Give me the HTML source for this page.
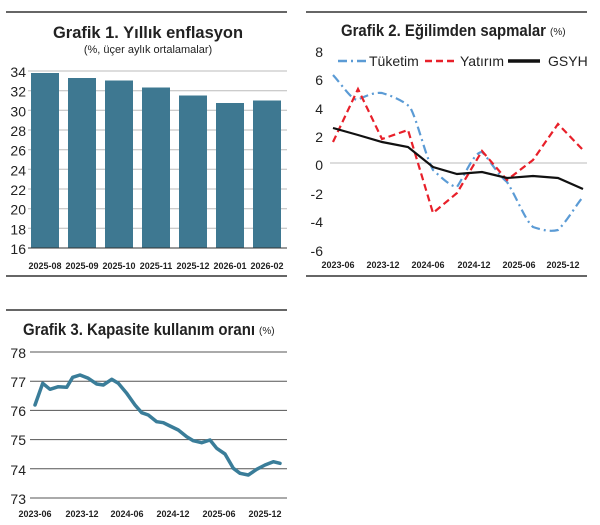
<!DOCTYPE html>
<html><head><meta charset="utf-8"><style>
html,body{margin:0;padding:0;background:#fff;}
svg{display:block;font-family:"Liberation Sans",sans-serif;}
</style></head><body>
<svg width="600" height="525" viewBox="0 0 600 525" xmlns="http://www.w3.org/2000/svg">
<rect width="600" height="525" fill="#fff"/>
<!-- Chart 1 -->
<line x1="6" y1="12" x2="287" y2="12" stroke="#333" stroke-width="1.5"/>
<line x1="6" y1="276" x2="287" y2="276" stroke="#333" stroke-width="1.5"/>
<text x="148" y="38" text-anchor="middle" font-size="17" font-weight="bold" fill="#222" textLength="190" lengthAdjust="spacingAndGlyphs">Grafik 1. Yıllık enflasyon</text>
<text x="148" y="53" text-anchor="middle" font-size="11" fill="#222">(%, üçer aylık ortalamalar)</text>
<g stroke="#bbb" stroke-width="1">
<line x1="28" y1="71" x2="287" y2="71"/><line x1="28" y1="90.7" x2="287" y2="90.7"/><line x1="28" y1="110.3" x2="287" y2="110.3"/><line x1="28" y1="130" x2="287" y2="130"/><line x1="28" y1="149.7" x2="287" y2="149.7"/><line x1="28" y1="169.3" x2="287" y2="169.3"/><line x1="28" y1="189" x2="287" y2="189"/><line x1="28" y1="208.7" x2="287" y2="208.7"/><line x1="28" y1="228.3" x2="287" y2="228.3"/>
</g>
<g fill="#3e7891">
<rect x="31" y="73" width="28" height="175"/>
<rect x="68" y="78" width="28" height="170"/>
<rect x="105" y="80.5" width="28" height="167.5"/>
<rect x="142" y="87.5" width="28" height="160.5"/>
<rect x="179" y="95.5" width="28" height="152.5"/>
<rect x="216" y="103" width="28" height="145"/>
<rect x="253" y="100.5" width="28" height="147.5"/>
</g>
<line x1="28" y1="248" x2="287" y2="248" stroke="#333" stroke-width="1"/>
<g font-size="14" fill="#222" text-anchor="end">
<text x="26" y="77">34</text><text x="26" y="96.7">32</text><text x="26" y="116.3">30</text><text x="26" y="136">28</text><text x="26" y="155.7">26</text><text x="26" y="175.3">24</text><text x="26" y="195">22</text><text x="26" y="214.7">20</text><text x="26" y="234.3">18</text><text x="26" y="254">16</text>
</g>
<g font-size="9" font-weight="bold" fill="#222" text-anchor="middle">
<text x="45" y="269">2025-08</text><text x="82" y="269">2025-09</text><text x="119" y="269">2025-10</text><text x="156" y="269">2025-11</text><text x="193" y="269">2025-12</text><text x="230" y="269">2026-01</text><text x="267" y="269">2026-02</text>
</g>
<!-- Chart 2 -->
<line x1="306" y1="12" x2="587" y2="12" stroke="#333" stroke-width="1.5"/>
<line x1="306" y1="276" x2="587" y2="276" stroke="#333" stroke-width="1.5"/>
<text x="341" y="36" font-size="17" font-weight="bold" fill="#222" textLength="205" lengthAdjust="spacingAndGlyphs">Grafik 2. Eğilimden sapmalar</text>
<text x="550" y="35" font-size="10" fill="#222">(%)</text>
<line x1="330" y1="163" x2="587" y2="163" stroke="#bbb" stroke-width="1"/>
<g font-size="14" fill="#222" text-anchor="end">
<text x="323" y="57">8</text><text x="323" y="85">6</text><text x="323" y="114">4</text><text x="323" y="142">2</text><text x="323" y="170">0</text><text x="323" y="199">-2</text><text x="323" y="227">-4</text><text x="323" y="256">-6</text>
</g>
<g font-size="14" fill="#222"><text x="369" y="66">Tüketim</text><text x="460" y="66">Yatırım</text><text x="548" y="66">GSYH</text></g>
<line x1="338" y1="61" x2="366" y2="61" stroke="#5b9bd5" stroke-width="2.5" stroke-dasharray="9,4,2,4"/>
<line x1="425" y1="61" x2="457" y2="61" stroke="#e8202a" stroke-width="2.5" stroke-dasharray="7,4"/>
<line x1="508" y1="61" x2="540" y2="61" stroke="#111" stroke-width="3.5"/>
<path d="M333,75 C343,86 350,98 357,100 C366,96 374,92 382,93 C392,96 402,100 410,107 C418,122 425,155 433,170 C442,178 450,186 457,187 C465,175 474,152 482,152 C490,160 498,175 507,182 C517,198 525,220 533,227 C542,230 550,232 558,230 C568,220 576,205 583,197" fill="none" stroke="#5b9bd5" stroke-width="2.2" stroke-dasharray="9,4,2,4"/>
<polyline points="333,142 358,89 382,139 408,130 433,213 457,193 482,151 507,180 533,160 558,124 583,150" fill="none" stroke="#e8202a" stroke-width="2.2" stroke-dasharray="7,4"/>
<polyline points="333,128 358,135 382,142 408,147 433,167 457,174 482,172 507,178 533,176 558,178 583,189" fill="none" stroke="#111" stroke-width="2.2"/>
<g font-size="9" font-weight="bold" fill="#222" text-anchor="middle">
<text x="338" y="268">2023-06</text><text x="383" y="268">2023-12</text><text x="428" y="268">2024-06</text><text x="474" y="268">2024-12</text><text x="519" y="268">2025-06</text><text x="563" y="268">2025-12</text>
</g>
<!-- Chart 3 -->
<line x1="6" y1="310" x2="287" y2="310" stroke="#333" stroke-width="1.5"/>
<text x="23" y="335" font-size="17" font-weight="bold" fill="#222" textLength="232" lengthAdjust="spacingAndGlyphs">Grafik 3. Kapasite kullanım oranı</text>
<text x="259" y="334" font-size="10" fill="#222">(%)</text>
<g stroke="#555" stroke-width="1">
<line x1="30" y1="352" x2="287" y2="352"/><line x1="30" y1="381.2" x2="287" y2="381.2"/><line x1="30" y1="410.4" x2="287" y2="410.4"/><line x1="30" y1="439.6" x2="287" y2="439.6"/><line x1="30" y1="468.8" x2="287" y2="468.8"/><line x1="30" y1="498" x2="287" y2="498"/>
</g>
<g font-size="14" fill="#222" text-anchor="end">
<text x="26" y="358">78</text><text x="26" y="387">77</text><text x="26" y="416">76</text><text x="26" y="445">75</text><text x="26" y="475">74</text><text x="26" y="504">73</text>
</g>
<polyline points="35,405 42.7,383.3 50,389.3 58.3,386.7 66.7,387.3 72.7,377.3 80,375 88.3,378.3 96.7,384 103.3,385 111.7,379.3 118.3,383.3 126.7,393.3 135,405 141.7,412.7 148.3,415 156.7,421.7 163.3,422.7 170,426 178.3,430 186.7,436.7 193.3,440.7 201.7,442.7 210,440 216.7,448.3 225,454 233.3,468.3 240,473.3 248.3,475 256.7,469.3 265,465 273.3,461.7 280,463.3" fill="none" stroke="#3a7d99" stroke-width="3.5" stroke-linejoin="round" stroke-linecap="round"/>
<g font-size="9" font-weight="bold" fill="#222" text-anchor="middle">
<text x="35" y="517">2023-06</text><text x="82" y="517">2023-12</text><text x="127" y="517">2024-06</text><text x="173" y="517">2024-12</text><text x="219" y="517">2025-06</text><text x="265" y="517">2025-12</text>
</g>
</svg>
</body></html>
